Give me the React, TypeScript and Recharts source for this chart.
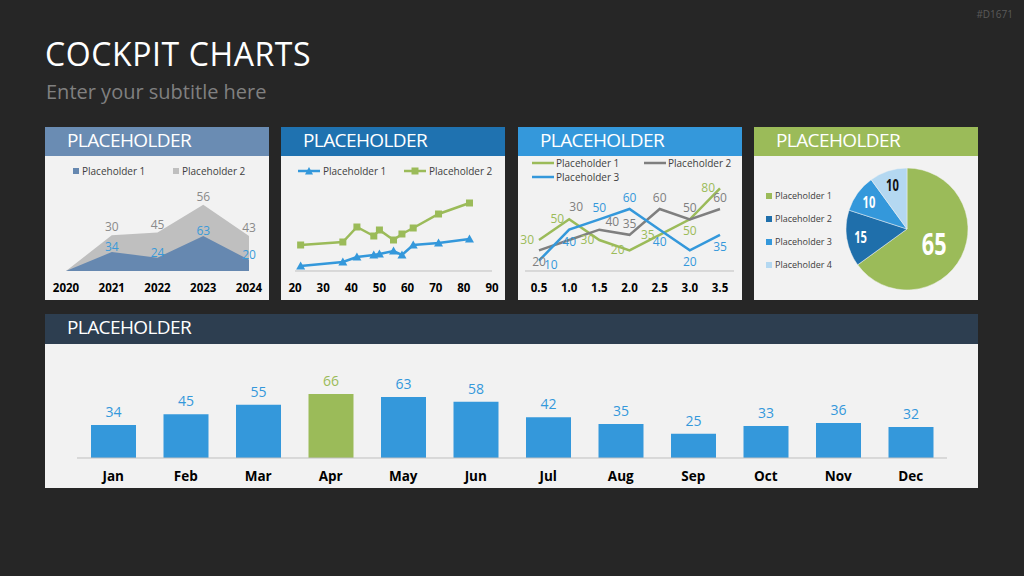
import React from "react"
import {
  AreaChart,
  Area,
  LineChart,
  Line,
  BarChart,
  Bar,
  Cell,
  PieChart,
  Pie,
  XAxis,
  YAxis,
  LabelList,
  Legend,
} from "recharts"

const FONT = "'Open Sans', 'Noto Sans', sans-serif"

// panel 1 - stacked area
const years = ["2020", "2021", "2022", "2023", "2024"]
const areaSeries1 = [0, 34, 24, 63, 20]
const areaSeries2 = [0, 30, 45, 56, 43]

// panel 2 - xy lines
const xyX = [22, 37, 42, 48, 50, 55, 58, 62, 71, 82]
const xySeries1 = [5, 9, 14, 16, 17, 20, 16, 26, 28, 32]
const xySeries2 = [26, 29, 44, 35, 41, 31, 37, 43, 57, 68]
const xyTicks = [20, 30, 40, 50, 60, 70, 80, 90]

// panel 3 - lines
const steps = ["0.5", "1.0", "1.5", "2.0", "2.5", "3.0", "3.5"]
const lineSeries1 = [30, 50, 30, 20, 35, 50, 80]
const lineSeries2 = [20, 30, 40, 35, 60, 50, 60]
const lineSeries3 = [10, 40, 50, 60, 40, 20, 35]

// panel 4 - pie
const pieNames = ["Placeholder 1", "Placeholder 2", "Placeholder 3", "Placeholder 4"]
const pieValues = [65, 15, 10, 10]

// bottom - monthly bars
const months = ["Jan", "Feb", "Mar", "Apr", "May", "Jun", "Jul", "Aug", "Sep", "Oct", "Nov", "Dec"]
const monthValues = [34, 45, 55, 66, 63, 58, 42, 35, 25, 33, 36, 32]
const highlightMonth = "Apr"

const BLUE = "#3498db"
const GREEN = "#9bbb59"
const GREY = "#7f7f7f"
const STEEL = "#6688b0"
const LIGHT_GREY = "#bfbfbf"

const pieColors = [GREEN, "#1f6fab", BLUE, "#b4d8f1"]
const pieLabelColors = ["#ffffff", "#ffffff", "#ffffff", "#111111"]
// label placement for panel 3, one per point
const place1 = ["left", "left", "left", "left", "left", "bottom", "left"]
const place2 = ["bottom", "high", "topright", "top", "top", "top", "top"]
const place3 = ["right", "bottom", "top", "top", "bottom", "bottom", "bottom"]

const areaData = years.map((y, i) => ({
  year: y,
  p1: areaSeries1[i],
  p2: areaSeries2[i],
  total: areaSeries1[i] + areaSeries2[i],
}))
const xyData = xyX.map((x, i) => ({ x, a: xySeries1[i], b: xySeries2[i] }))
const lineData = steps.map((s, i) => ({ step: s, a: lineSeries1[i], b: lineSeries2[i], c: lineSeries3[i] }))
const pieData = pieNames.map((n, i) => ({ name: n, value: pieValues[i] }))
const monthData = months.map((m, i) => ({ month: m, value: monthValues[i] }))

const axisTick = { fill: "#000", fontSize: 11.5, fontWeight: 700, fontFamily: FONT }

type LegendItem = { name: string; color: string; icon: "square" | "line" | "triangle" | "box" }

const LegendIcon = ({ icon, color, size }: { icon: string; color: string; size: number }) => {
  if (icon === "square") {
    return (
      <svg width={size} height={size} style={{ flex: "none" }}>
        <rect width={size} height={size} fill={color} />
      </svg>
    )
  }
  return (
    <svg width={22} height={10} style={{ flex: "none" }}>
      <line x1={0} y1={5} x2={22} y2={5} stroke={color} strokeWidth={2.5} />
      {icon === "triangle" && <path d="M11,1 L15,8.5 L7,8.5 Z" fill={color} />}
      {icon === "box" && <rect x={7.5} y={1.5} width={7} height={7} fill={color} />}
    </svg>
  )
}

const makeLegend =
  (items: LegendItem[], itemWidth: number, rowHeight: number, fontSize: number, gap: number, column = false) =>
  () => (
    <div style={{ display: "flex", flexWrap: "wrap", flexDirection: column ? "column" : "row" }}>
      {items.map((it) => (
        <div
          key={it.name}
          style={{
            width: itemWidth,
            height: rowHeight,
            display: "flex",
            alignItems: "center",
            gap,
            fontSize,
            lineHeight: 1,
            color: "#404040",
            fontFamily: FONT,
            whiteSpace: "nowrap",
          }}
        >
          <LegendIcon icon={it.icon} color={it.color} size={6} />
          <span>{it.name}</span>
        </div>
      ))}
    </div>
  )

const makeSideLabel = (color: string, places: string[]) => (props: any) => {
  const vb = props.viewBox || {}
  const x = props.x ?? vb.x
  const y = props.y ?? vb.y
  const place = places[props.index] || "top"
  let dx = 0
  let dy = -7
  let anchor: "middle" | "start" | "end" = "middle"
  if (place === "bottom") dy = 16
  if (place === "high") {
    dx = 7
    dy = -29
  }
  if (place === "topright") {
    dx = 13
    dy = -4
  }
  if (place === "left") {
    dx = -5
    dy = 4
    anchor = "end"
  }
  if (place === "right") {
    dx = 5
    dy = 8
    anchor = "start"
  }
  return (
    <text x={x + dx} y={y + dy} fill={color} fontSize={12} fontFamily={FONT} textAnchor={anchor}>
      {props.value}
    </text>
  )
}

const renderMonthLabel = (props: any) => {
  const vb = props.viewBox || {}
  const x = props.x ?? vb.x
  const y = props.y ?? vb.y
  const width = props.width ?? vb.width
  const isHi = months[props.index] === highlightMonth
  return (
    <text x={x + width / 2} y={y - 8} fill={isHi ? GREEN : BLUE} fontSize={14} fontFamily={FONT} textAnchor="middle">
      {props.value}
    </text>
  )
}

const renderPieLabel = (props: any) => {
  const { cx, cy, midAngle, outerRadius, value, index, percent } = props
  const big = percent > 0.5
  const r = outerRadius * (big ? 0.5 : 0.77)
  const rad = (-midAngle * Math.PI) / 180
  const x = cx + r * Math.cos(rad)
  const y = cy + r * Math.sin(rad)
  return (
    <text
      transform={`translate(${x},${y}) scale(0.7,1)`}
      x={0}
      y={0}
      fill={pieLabelColors[index]}
      fontSize={big ? 31 : 16}
      fontWeight={700}
      fontFamily={FONT}
      textAnchor="middle"
      dominantBaseline="central"
    >
      {value}
    </text>
  )
}

const TriangleDot = (p: any) => (
  <path key={`t${p.index}`} d={`M${p.cx},${p.cy - 4.5} L${p.cx + 4.5},${p.cy + 3.5} L${p.cx - 4.5},${p.cy + 3.5} Z`} fill={BLUE} />
)
const SquareDot = (p: any) => <rect key={`s${p.index}`} x={p.cx - 3.5} y={p.cy - 3.5} width={7} height={7} fill={GREEN} />

const Panel = ({
  left,
  top,
  width,
  height,
  headerColor,
  headerHeight = 29,
  children,
}: {
  left: number
  top: number
  width: number
  height: number
  headerColor: string
  headerHeight?: number
  children: React.ReactNode
}) => (
  <div style={{ position: "absolute", left, top, width, height, background: "#f2f2f2" }}>
    <div style={{ position: "absolute", left: 0, top: 0, width, height: headerHeight, background: headerColor }}>
      <div
        style={{
          position: "absolute",
          left: 22,
          top: 4.4,
          fontSize: 19,
          letterSpacing: -0.6,
          lineHeight: 1,
          color: "#fff",
          fontFamily: FONT,
        }}
      >
        PLACEHOLDER
      </div>
    </div>
    <div style={{ position: "absolute", left: 0, top: headerHeight }}>{children}</div>
  </div>
)

const App = () => {
  return (
    <div
      style={{
        position: "fixed",
        left: 0,
        top: 0,
        width: 1024,
        height: 576,
        background: "#262626",
        overflow: "hidden",
        fontFamily: FONT,
      }}
    >
      <div style={{ position: "absolute", right: 11, top: 9, fontSize: 10, lineHeight: 1, color: "#5a5a5a" }}>#D1671</div>
      <div style={{ position: "absolute", left: 45, top: 38.3, fontSize: 32, letterSpacing: 0.6, lineHeight: 1, color: "#fff" }}>
        COCKPIT CHARTS
      </div>
      <div style={{ position: "absolute", left: 46, top: 82.2, fontSize: 20, lineHeight: 1, color: "#808080" }}>
        Enter your subtitle here
      </div>

      {/* panel 1 */}
      <Panel left={45} top={127} width={224} height={173} headerColor="#6a8cb3">
        <AreaChart width={224} height={144} data={areaData} margin={{ top: 37, right: 20, bottom: 0, left: 21 }}>
          <XAxis dataKey="year" height={29} tick={axisTick} tickSize={0} tickMargin={13} axisLine={false} tickLine={false} interval={0} />
          <YAxis hide domain={[0, 140]} />
          <Legend
            layout="horizontal"
            verticalAlign="middle"
            align="center"
            wrapperStyle={{ top: 8, left: 28, width: 200 }}
            content={makeLegend(
              [
                { name: "Placeholder 1", color: STEEL, icon: "square" },
                { name: "Placeholder 2", color: LIGHT_GREY, icon: "square" },
              ],
              100,
              14,
              10,
              3
            )}
          />
          <Area type="linear" dataKey="total" name="Placeholder 2" stroke="none" fill={LIGHT_GREY} fillOpacity={1} isAnimationActive={false}>
            <LabelList dataKey="p2" position="top" offset={4} fill="#8a8a8a" fontSize={12} fontFamily={FONT} formatter={(v: any) => (v ? v : "")} />
          </Area>
          <Area type="linear" dataKey="p1" name="Placeholder 1" stroke="none" fill={STEEL} fillOpacity={1} isAnimationActive={false}>
            <LabelList dataKey="p1" position="top" offset={1} fill="#3a9ad9" fontSize={12} fontFamily={FONT} formatter={(v: any) => (v ? v : "")} />
          </Area>
        </AreaChart>
      </Panel>

      {/* panel 2 */}
      <Panel left={281} top={127} width={224} height={173} headerColor="#1f72b0">
        <LineChart width={224} height={144} data={xyData} margin={{ top: 35, right: 13, bottom: 0, left: 14 }}>
          <XAxis
            dataKey="x"
            type="number"
            domain={[20, 90]}
            ticks={xyTicks}
            height={29}
            tick={axisTick}
            tickSize={0}
            tickMargin={13}
            axisLine={{ stroke: LIGHT_GREY }}
            tickLine={false}
            interval={0}
          />
          <YAxis hide domain={[0, 80]} />
          <Legend
            layout="horizontal"
            verticalAlign="middle"
            align="center"
            wrapperStyle={{ top: 8, left: 17, width: 212 }}
            content={makeLegend(
              [
                { name: "Placeholder 1", color: BLUE, icon: "triangle" },
                { name: "Placeholder 2", color: GREEN, icon: "box" },
              ],
              106,
              14,
              10,
              3
            )}
          />
          <Line type="linear" dataKey="b" stroke={GREEN} strokeWidth={2.5} dot={SquareDot} isAnimationActive={false} />
          <Line type="linear" dataKey="a" stroke={BLUE} strokeWidth={2.5} dot={TriangleDot} isAnimationActive={false} />
        </LineChart>
      </Panel>

      {/* panel 3 */}
      <Panel left={518} top={127} width={224} height={173} headerColor="#3498db">
        <LineChart width={224} height={144} data={lineData} margin={{ top: 22, right: 8, bottom: 0, left: 7 }}>
          <XAxis
            dataKey="step"
            height={29}
            tick={axisTick}
            tickSize={0}
            tickMargin={13}
            axisLine={{ stroke: LIGHT_GREY }}
            tickLine={false}
            padding={{ left: 14, right: 14 }}
            interval={0}
          />
          <YAxis hide domain={[0, 90]} />
          <Legend
            layout="horizontal"
            verticalAlign="middle"
            align="center"
            wrapperStyle={{ top: 0, left: 14, width: 224 }}
            content={makeLegend(
              [
                { name: "Placeholder 1", color: GREEN, icon: "line" },
                { name: "Placeholder 2", color: GREY, icon: "line" },
                { name: "Placeholder 3", color: BLUE, icon: "line" },
              ],
              112,
              14,
              10,
              2
            )}
          />
          <Line type="linear" dataKey="a" stroke={GREEN} strokeWidth={2.5} dot={false} isAnimationActive={false}>
            <LabelList dataKey="a" content={makeSideLabel(GREEN, place1)} />
          </Line>
          <Line type="linear" dataKey="b" stroke={GREY} strokeWidth={2.5} dot={false} isAnimationActive={false}>
            <LabelList dataKey="b" content={makeSideLabel(GREY, place2)} />
          </Line>
          <Line type="linear" dataKey="c" stroke={BLUE} strokeWidth={2.5} dot={false} isAnimationActive={false}>
            <LabelList dataKey="c" content={makeSideLabel(BLUE, place3)} />
          </Line>
        </LineChart>
      </Panel>

      {/* panel 4 */}
      <Panel left={754} top={127} width={224} height={173} headerColor={GREEN}>
        <PieChart width={224} height={144} margin={{ top: 0, right: 0, bottom: 0, left: 0 }}>
          <Legend
            layout="horizontal"
            verticalAlign="middle"
            align="center"
            wrapperStyle={{ top: 28, left: 12, width: 90 }}
            content={makeLegend(
              pieNames.map((n, i) => ({ name: n, color: pieColors[i], icon: "square" as const })),
              90,
              23.1,
              9,
              3,
              true
            )}
          />
          <Pie
            data={pieData}
            dataKey="value"
            nameKey="name"
            cx={153}
            cy={73}
            outerRadius={61}
            startAngle={90}
            endAngle={-270}
            stroke="#f2f2f2"
            strokeWidth={0.5}
            labelLine={false}
            label={renderPieLabel}
            isAnimationActive={false}
          >
            {pieData.map((d, i) => (
              <Cell key={d.name} fill={pieColors[i]} />
            ))}
          </Pie>
        </PieChart>
      </Panel>

      {/* bottom panel */}
      <Panel left={45} top={314} width={933} height={174} headerColor="#2d3e50" headerHeight={30}>
        <BarChart width={933} height={144} data={monthData} margin={{ top: 17, right: 31, bottom: 0, left: 32 }}>
          <XAxis
            dataKey="month"
            height={30}
            tick={{ ...axisTick, fontSize: 13.5 }}
            tickSize={0}
            tickMargin={13}
            axisLine={{ stroke: LIGHT_GREY }}
            tickLine={false}
            interval={0}
          />
          <YAxis hide domain={[0, 100]} />
          <Bar dataKey="value" barSize={45} isAnimationActive={false}>
            {monthData.map((d) => (
              <Cell key={d.month} fill={d.month === highlightMonth ? GREEN : BLUE} />
            ))}
            <LabelList dataKey="value" content={renderMonthLabel} />
          </Bar>
        </BarChart>
      </Panel>
    </div>
  )
}

export default App
